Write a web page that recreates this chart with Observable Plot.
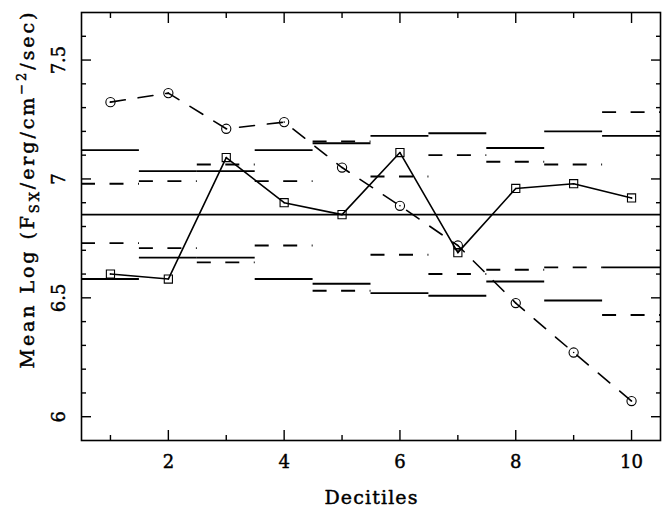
<!DOCTYPE html>
<html><head><meta charset="utf-8">
<script src="https://cdn.jsdelivr.net/npm/d3@7"></script>
<script src="https://cdn.jsdelivr.net/npm/@observablehq/plot@0.6"></script>
<style>html,body{margin:0;padding:0;background:#fff}svg{display:block}</style>
</head><body><div id="chart"></div>
<script>
// ---- data ----
const deciles = [1, 2, 3, 4, 5, 6, 7, 8, 9, 10];
const meanSquares = [6.600, 6.579, 7.090, 6.900, 6.850, 7.111, 6.690, 6.960, 6.980, 6.920];
const meanCircles = [7.323, 7.361, 7.211, 7.239, 7.048, 6.887, 6.720, 6.478, 6.270, 6.066];
const overallMean = 6.85;
const solidUpper  = [7.121, 7.033, 7.033, 7.121, 7.150, 7.181, 7.192, 7.130, 7.200, 7.181];
const solidLower  = [6.579, 6.669, 6.669, 6.579, 6.559, 6.520, 6.509, 6.569, 6.489, 6.628];
const dashedUpper = [6.980, 6.991, 7.061, 6.991, 7.158, 7.010, 7.100, 7.072, 7.061, 7.281];
const dashedLower = [6.730, 6.709, 6.649, 6.720, 6.530, 6.681, 6.600, 6.618, 6.628, 6.428];
const xMajorTicks = [2, 4, 6, 8, 10];
const xMinorTicks = [1, 3, 5, 7, 9];
const yMajorTicks = [6, 6.5, 7, 7.5];
const yMinorTicks = [6.1, 6.2, 6.3, 6.4, 6.6, 6.7, 6.8, 6.9, 7.1, 7.2, 7.3, 7.4, 7.6];
const xLabel = "Decitiles";
const yLabelText = "Mean Log (FSX/erg/cm-2/sec)";

// ---- tables built from the arrays ----
const squares = deciles.map((d, i) => ({d, v: meanSquares[i]}));
const circles = deciles.map((d, i) => ({d, v: meanCircles[i]}));
const seg = arr => deciles.map((d, i) => ({x1: d - 0.5, x2: d + 0.5, y: arr[i]}));
const solidSegs = [...seg(solidUpper), ...seg(solidLower)];
const dashedSegs = [...seg(dashedUpper), ...seg(dashedLower)];

const tickOpts = {fill: "none", stroke: "black", strokeWidth: 1.4, label: null};
const textInk = {fill: "black", stroke: "black", strokeWidth: 0.45};

const chart = Plot.plot({
  width: 667,
  height: 516,
  marginLeft: 81,
  marginRight: 7,
  marginTop: 12,
  marginBottom: 76,
  style: {fontFamily: "'DejaVu Serif', serif", fontSize: "18px", background: "white", color: "black"},
  x: {domain: [0.5, 10.5]},
  y: {domain: [5.9, 7.7]},
  marks: [
    // band segments
    Plot.ruleY(solidSegs, {x1: "x1", x2: "x2", y: "y", stroke: "black", strokeWidth: 1.9}),
    Plot.ruleY(dashedSegs, {x1: "x1", x2: "x2", y: "y", stroke: "black", strokeWidth: 1.9, strokeDasharray: "14,14.5"}),
    Plot.ruleY([overallMean], {stroke: "black", strokeWidth: 1.9}),
    // series
    Plot.line(circles, {x: "d", y: "v", stroke: "black", strokeWidth: 1.6, strokeDasharray: "15,13"}),
    Plot.line(squares, {x: "d", y: "v", stroke: "black", strokeWidth: 1.6}),
    Plot.dot(circles, {x: "d", y: "v", r: 4.6, stroke: "black", strokeWidth: 1.1, fill: "none"}),
    Plot.dot(squares, {x: "d", y: "v", r: 4.6, symbol: "square", stroke: "black", strokeWidth: 1.1, fill: "none"}),
    Plot.dot([...circles, ...squares], {x: "d", y: "v", r: 0.8, fill: "black"}),
    // inward ticks on all four sides
    Plot.axisX(xMajorTicks, {...tickOpts, anchor: "bottom", tickSize: 10, dy: -10}),
    Plot.axisX(xMinorTicks, {...tickOpts, anchor: "bottom", tickSize: 5, dy: -5}),
    Plot.axisX(xMajorTicks, {...tickOpts, anchor: "top", tickSize: 10, dy: 10}),
    Plot.axisX(xMinorTicks, {...tickOpts, anchor: "top", tickSize: 5, dy: 5}),
    Plot.axisY(yMajorTicks, {...tickOpts, anchor: "left", tickSize: 10, dx: 10}),
    Plot.axisY(yMinorTicks, {...tickOpts, anchor: "left", tickSize: 5, dx: 5}),
    Plot.axisY(yMajorTicks, {...tickOpts, anchor: "right", tickSize: 10, dx: -10}),
    Plot.axisY(yMinorTicks, {...tickOpts, anchor: "right", tickSize: 5, dx: -5}),
    // tick labels
    Plot.axisX(xMajorTicks, {anchor: "bottom", tickSize: 0, tickPadding: 15, label: null, fontSize: 18, textStroke: "black", textStrokeWidth: 0.45, tickFormat: d => String(d)}),
    Plot.axisY(yMajorTicks, {anchor: "left", tickSize: 0, tickPadding: 17, tickRotate: -90, label: null, fontSize: 18, textStroke: "black", textStrokeWidth: 0.45, tickFormat: d => String(d)}),
    // axis titles
    Plot.text([xLabel], {text: d => d, frameAnchor: "bottom", dy: 57, lineAnchor: "middle", fontSize: 19, ...textInk}),
    Plot.text([yLabelText], {text: d => d, frameAnchor: "left", dx: -54, dy: -36, rotate: -90, textAnchor: "middle", lineAnchor: "middle", fontSize: 19, ...textInk}),
    Plot.frame({stroke: "black", strokeWidth: 1.6})
  ]
});

const svg = d3.select(chart);
// x title width as in the reference
svg.selectAll("text").filter(function() { return this.textContent === xLabel; })
  .attr("textLength", 93).attr("lengthAdjust", "spacing");
// sub/superscripts in the y title
svg.selectAll("text").filter(function() { return this.textContent === yLabelText; }).each(function() {
  const t = d3.select(this).attr("textLength", 356).attr("lengthAdjust", "spacing");
  t.text("");
  t.append("tspan").text("Mean Log (F");
  t.append("tspan").attr("dy", 5).attr("font-size", 13).text("SX");
  t.append("tspan").attr("dy", -5).text("/erg/cm");
  t.append("tspan").attr("dy", -8).attr("font-size", 13).text("\u22122");
  t.append("tspan").attr("dy", 8).text("/sec)");
});

document.getElementById("chart").appendChild(chart);
</script>
</body></html>
